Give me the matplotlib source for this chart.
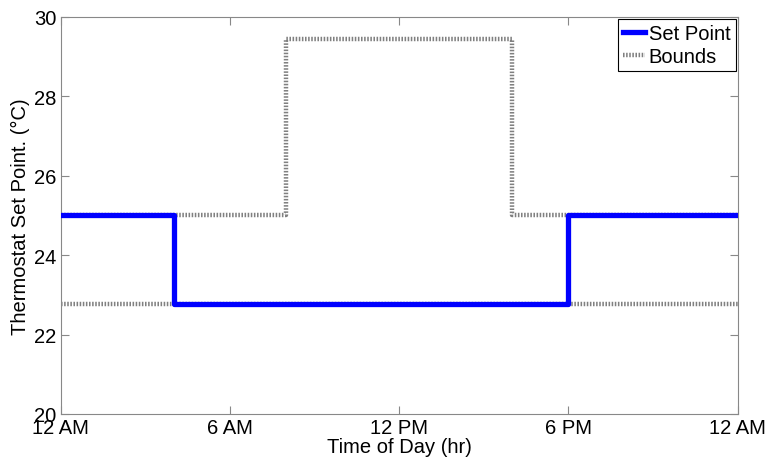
import matplotlib
matplotlib.use("Agg")
import matplotlib.pyplot as plt

plt.rcParams['font.family'] = ['Liberation Sans', 'DejaVu Sans']

# set point schedule (hours, deg C), step held until next hour
sp_hours = [0, 4, 18, 24]
sp_values = [25.0, 22.78, 25.0, 25.0]

# comfort bounds
ub_hours = [0, 8, 16, 24]
ub_values = [25.0, 29.44, 25.0, 25.0]
lb_hours = [0, 24]
lb_values = [22.78, 22.78]

tick_hours = [0, 6, 12, 18, 24]
tick_labels = ["12 AM", "6 AM", "12 PM", "6 PM", "12 AM"]

fig = plt.figure(figsize=(7.7, 4.6), dpi=100)
ax = fig.add_axes([0.079, 0.098, 0.879, 0.863])

bound_style = dict(color="#808080", linewidth=3.2, linestyle=(0, (0.35, 0.35)), zorder=2)
ax.step(sp_hours, sp_values, where="post", color="#0000ff", linewidth=3.8,
        label="Set Point", zorder=3)
ax.step(ub_hours, ub_values, where="post", label="Bounds", **bound_style)
ax.step(lb_hours, lb_values, where="post", **bound_style)

ax.set_xlim(0, 24)
ax.set_ylim(20, 30)
ax.set_xticks(tick_hours)
ax.set_xticklabels(tick_labels)
ax.set_yticks(range(20, 31, 2))
ax.tick_params(direction="in", top=True, right=True, labelsize=14.5,
               length=6, color="#888888", pad=3)
for s in ax.spines.values():
    s.set_color("#888888")

ax.set_xlabel("Time of Day (hr)", fontsize=14.5, labelpad=0)
ax.set_ylabel("Thermostat Set Point. (\u00b0C)", fontsize=14.5, labelpad=3)

leg = ax.legend(loc="upper right", fontsize=14.5, fancybox=False, framealpha=1,
                edgecolor="black", handlelength=1.1, handletextpad=0.2,
                borderpad=0.25, labelspacing=0.2, borderaxespad=0.1)
leg.get_frame().set_linewidth(0.8)

fig.savefig("out.png", dpi=100)
